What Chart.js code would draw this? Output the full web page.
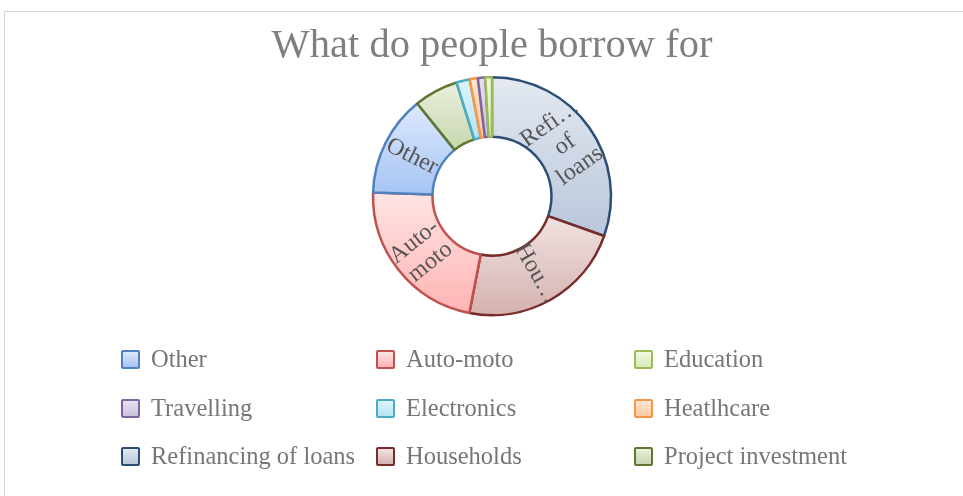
<!DOCTYPE html>
<html>
<head>
<meta charset="utf-8">
<script src="https://cdn.jsdelivr.net/npm/chart.js@4.4.1/dist/chart.umd.min.js"></script>
<style>
  html, body { margin: 0; padding: 0; background: #ffffff; }
  #wrap { position: relative; width: 963px; height: 496px; overflow: hidden; background: #fff; }
  #frame { position: absolute; left: 4px; top: 11px; width: 1000px; height: 600px; border: 1px solid #d6d6d6; box-sizing: border-box; }
  #c { position: absolute; left: 0; top: 0; }
  #legend { position: absolute; left: 0; top: 0; width: 963px; height: 496px; pointer-events: none; }
  .item { position: absolute; height: 24px; display: flex; align-items: center; white-space: nowrap;
          font-family: "Liberation Serif", serif; font-size: 24.5px; line-height: 24px; color: #767676; }
  .box { width: 15px; height: 15px; border-width: 2.5px; border-style: solid; border-radius: 2px; margin-right: 11px; flex: none; }
</style>
</head>
<body>
<div id="wrap">
  <div id="frame"></div>
  <canvas id="c" width="963" height="496"></canvas>
  <div id="legend"></div>
</div>
<script>
// ---- data ----
const categories = ["Refinancing of loans", "Households", "Auto-moto", "Other", "Project investment", "Electronics", "Heatlhcare", "Travelling", "Education"];
const shares = [30.4, 22.6, 22.4, 13.7, 6.0, 1.8, 1.1, 1.0, 0.9];
const legendOrder = ["Other", "Auto-moto", "Education", "Travelling", "Electronics", "Heatlhcare", "Refinancing of loans", "Households", "Project investment"];
const sliceLabels = [["Refi…", "of", "loans"], ["Hou…"], ["Auto-", "moto"], ["Other"], [], [], [], [], []];
const chartTitle = "What do people borrow for";

// ---- styles ----
const borderColors = {
  "Refinancing of loans": "#2c4d75", "Households": "#772c2a", "Auto-moto": "#c0504d",
  "Other": "#4f81bd", "Project investment": "#5f7530", "Electronics": "#4bacc6",
  "Heatlhcare": "#f79646", "Travelling": "#8064a2", "Education": "#9bbb59"
};
const fillTop = {
  "Refinancing of loans": "#e4e9f1", "Households": "#f1e2e1", "Auto-moto": "#ffe4e4",
  "Other": "#dde9fd", "Project investment": "#e9efdd", "Electronics": "#ddf3fa",
  "Heatlhcare": "#fee6d4", "Travelling": "#e8e1f0", "Education": "#f0f7e0"
};
const fillBottom = {
  "Refinancing of loans": "#b9c6da", "Households": "#d4b1b0", "Auto-moto": "#ffb3b3",
  "Other": "#a6c4f3", "Project investment": "#c8d7ae", "Electronics": "#b5e4f3",
  "Heatlhcare": "#fcc8a0", "Travelling": "#cdc0de", "Education": "#d9eab8"
};
const OUTER_R = 119;

function sliceGradient(context) {
  const chart = context.chart;
  const i = context.dataIndex;
  const cat = categories[i];
  const area = chart.chartArea;
  if (!area || i === undefined) return fillTop[cat];
  const cx = (area.left + area.right) / 2, cy = (area.top + area.bottom) / 2;
  const R = OUTER_R, r = OUTER_R * 0.5;
  const total = shares.reduce((a, b) => a + b, 0);
  let before = 0;
  for (let k = 0; k < i; k++) before += shares[k];
  const a0 = -Math.PI / 2 + before / total * 2 * Math.PI;
  const a1 = a0 + shares[i] / total * 2 * Math.PI;
  const ys = [Math.sin(a0) * R, Math.sin(a1) * R, Math.sin(a0) * r, Math.sin(a1) * r];
  const inRange = (a) => { let t = a; while (t < a0) t += 2 * Math.PI; return t <= a1; };
  if (inRange(Math.PI / 2)) ys.push(R);
  if (inRange(-Math.PI / 2)) ys.push(-R);
  const y0 = cy + Math.min(...ys), y1 = cy + Math.max(...ys);
  const g = chart.ctx.createLinearGradient(0, y0, 0, Math.max(y1, y0 + 1));
  g.addColorStop(0, fillTop[cat]);
  g.addColorStop(1, fillBottom[cat]);
  return g;
}

const sliceLabelPlugin = {
  id: 'sliceLabels',
  afterDatasetsDraw(chart) {
    const ctx = chart.ctx;
    const meta = chart.getDatasetMeta(0);
    ctx.save();
    ctx.font = '24px "Liberation Serif", serif';
    ctx.fillStyle = '#555555';
    ctx.textAlign = 'center';
    ctx.textBaseline = 'middle';
    const lineH = 26;
    meta.data.forEach((arc, i) => {
      const lines = sliceLabels[i];
      if (!lines || !lines.length) return;
      const p = arc.getProps(['x', 'y', 'startAngle', 'endAngle', 'innerRadius', 'outerRadius'], true);
      const mid = (p.startAngle + p.endAngle) / 2;
      const rr = (p.innerRadius + p.outerRadius) / 2;
      const px = p.x + Math.cos(mid) * rr, py = p.y + Math.sin(mid) * rr;
      let rot = mid;
      while (rot > Math.PI / 2) rot -= Math.PI;
      while (rot <= -Math.PI / 2) rot += Math.PI;
      ctx.save();
      ctx.translate(px, py);
      ctx.rotate(rot);
      lines.forEach((ln, k) => ctx.fillText(ln, 0, (k - (lines.length - 1) / 2) * lineH));
      ctx.restore();
    });
    ctx.restore();
  }
};

const chart = new Chart(document.getElementById('c'), {
  type: 'doughnut',
  data: {
    labels: categories,
    datasets: [{
      data: shares,
      backgroundColor: sliceGradient,
      borderColor: categories.map(c => borderColors[c]),
      borderWidth: 2.5,
      hoverOffset: 0,
      hoverBorderWidth: 2.5,
      clip: false
    }]
  },
  options: {
    responsive: false,
    animation: false,
    radius: OUTER_R,
    cutout: '50%',
    layout: { padding: { left: 21, right: 0, top: 0, bottom: 179.75 } },
    plugins: {
      legend: { display: false },
      tooltip: { enabled: false },
      title: {
        display: true,
        text: chartTitle,
        color: '#7f7f7f',
        font: { family: '"Liberation Serif", serif', size: 40.5, weight: 'normal', lineHeight: 1.2 },
        padding: { top: 22, bottom: 5.5 }
      }
    }
  },
  plugins: [sliceLabelPlugin]
});

// ---- HTML legend in the reference's 3-column grid ----
const colX = [121, 376, 634];
const rowY = [347, 396, 444];
const legendEl = document.getElementById('legend');
legendOrder.forEach((cat, k) => {
  const item = document.createElement('div');
  item.className = 'item';
  item.style.left = colX[k % 3] + 'px';
  item.style.top = rowY[Math.floor(k / 3)] + 'px';
  const box = document.createElement('span');
  box.className = 'box';
  box.style.borderColor = borderColors[cat];
  box.style.background = 'linear-gradient(' + fillTop[cat] + ',' + fillBottom[cat] + ')';
  const txt = document.createElement('span');
  txt.textContent = cat;
  item.appendChild(box);
  item.appendChild(txt);
  legendEl.appendChild(item);
});
</script>
</body>
</html>
